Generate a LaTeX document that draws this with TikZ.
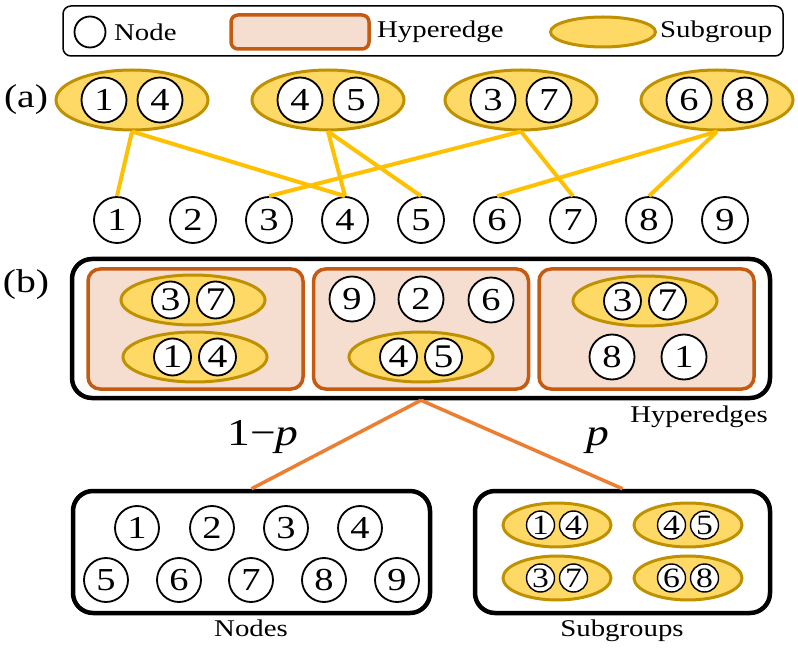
\documentclass[tikz,border=0pt]{standalone}
\usepackage{fontspec}
\setmainfont{Liberation Serif}[FakeStretch=1.2]
\usetikzlibrary{shapes.geometric,positioning}

\definecolor{grpfill}{HTML}{FFD966}
\definecolor{grpline}{HTML}{BF9000}
\definecolor{hypfill}{HTML}{F5DDD0}
\definecolor{hypline}{HTML}{C55A11}
\definecolor{linkyel}{HTML}{FFC000}
\definecolor{linkora}{HTML}{ED7D31}

\tikzset{
  vtx/.style={circle, draw=black, fill=white, line width=1.8pt, inner sep=0pt,
    minimum size=45pt, font=\fontsize{32}{32}\selectfont},
  vtxm/.style={vtx, minimum size=37pt, font=\fontsize{33}{33}\selectfont},
  vtxs/.style={vtx, line width=1.4pt, minimum size=28pt, font=\fontsize{28}{28}\selectfont},
  grp/.style={ellipse, draw=grpline, fill=grpfill, line width=3pt, inner sep=0pt,
    minimum width=152pt, minimum height=60pt},
  grpm/.style={grp, minimum width=144pt, minimum height=50pt},
  grps/.style={grp, minimum width=108pt, minimum height=44pt},
  hyp/.style={rectangle, rounded corners=12pt, draw=hypline, fill=hypfill, line width=3.5pt,
    minimum width=215pt, minimum height=120pt},
  panel/.style={rectangle, rounded corners=20pt, draw=black, line width=4.5pt, minimum height=122pt},
  lbl/.style={font=\fontsize{24}{24}\selectfont, inner sep=0pt},
  tag/.style={font=\fontsize{33}{33}\selectfont, inner sep=0pt},
  alink/.style={draw=linkyel, line width=4pt},
  blink/.style={draw=linkora, line width=3.5pt},
}

\begin{document}
\begin{tikzpicture}[x=1pt, y=-1pt]
    \useasboundingbox (0,0) rectangle (798,652);

    % legend
    \node[rectangle, rounded corners=8pt, draw, line width=1.5pt, minimum width=720pt,
      minimum height=50pt] (legend) at (423,31) {};
    \node[circle, draw, line width=1.8pt, minimum size=31pt] (legvtx) at (90,32) {};
    \node[lbl, anchor=west] (legvtxt) at (114,32) {Node};
    \node[hyp, minimum width=138pt, minimum height=34pt, rounded corners=7pt] (leghyp) at (300,32) {};
    \node[lbl, anchor=west] (leghypt) at (377,32) {Hyperedge};
    \node[grp, minimum width=105pt, minimum height=30pt] (leggrp) at (603,32) {};
    \node[lbl, anchor=west] (leggrpt) at (660,32) {Subgroup};

    % (a)
    \node[tag] (taga) at (26,100) {(a)};
    \foreach \i in {1,...,9}
        \node[vtx, minimum size=46pt] (a\i) at ({117+76*(\i-1)},220) {\i};
    \foreach \nm/\x/\p/\q in {g14/132/1/4, g45/328/4/5, g37/521/3/7, g68/717/6/8} {
        \node[grp] (\nm) at (\x,100) {};
        \node[vtx] (\nm-l) at (\x-28,100) {\p};
        \node[vtx] (\nm-r) at (\x+28,100) {\q};
    }
    \foreach \g/\n in {g14/1, g14/4, g45/4, g45/5, g37/3, g37/7, g68/6, g68/8}
        \draw[alink] (\g.south) -- (a\n.north);

    % (b)
    \node[tag] (tagb) at (26,285) {(b)};
    \node[panel, minimum width=698pt, minimum height=139pt] (hypbox) at (421,328.5) {};
    \node[hyp] (h1) at (195.5,329) {};
    \node[hyp] (h2) at (421,329) {};
    \node[hyp] (h3) at (646.5,329) {};

    \foreach \nm/\x/\y/\p/\q in {h1t/193/300/3/7, h1b/195/357/1/4, h2b/421/357/4/5, h3t/645/301/3/7} {
        \node[grpm] (\nm) at (\x,\y) {};
        \node[vtxm] (\nm-l) at (\x-22.5,\y) {\p};
        \node[vtxm] (\nm-r) at (\x+22.5,\y) {\q};
    }
    \node[vtx] (h2a) at (352,299) {9};
    \node[vtx] (h2c) at (421,299) {2};
    \node[vtx] (h2d) at (491,300) {6};
    \node[vtx] (h3a) at (612,357) {8};
    \node[vtx] (h3b) at (684,357) {1};
    \node[lbl, anchor=north east] (hyplbl) at (768,406) {Hyperedges};

    \node[panel, minimum width=357pt] (nodebox) at (251.5,552) {};
    \node[panel, minimum width=295pt] (subbox) at (622.5,552) {};
    \draw[blink] (hypbox.south) -- (nodebox.north);
    \draw[blink] (hypbox.south) -- (subbox.north);
    \node[font=\fontsize{38}{38}\selectfont, inner sep=0pt] (lp) at (263,437) {1−\textit{p}};
    \node[font=\fontsize{38}{38}\selectfont, inner sep=0pt] (rp) at (598,441) {\textit{p}};

    \foreach \i/\x in {1/137, 2/212, 3/286, 4/360}
        \node[vtx, minimum size=44pt] (b\i) at (\x,528) {\i};
    \foreach \i/\x in {5/106, 6/179, 7/251, 8/324, 9/397}
        \node[vtx, minimum size=44pt] (b\i) at (\x,580) {\i};
    \node[lbl, anchor=north] (nodelbl) at (251,620) {Nodes};

    \foreach \nm/\x/\y/\p/\q in {s14/557/525/1/4, s45/688/525/4/5, s37/557/578/3/7, s68/688/578/6/8} {
        \node[grps] (\nm) at (\x,\y) {};
        \node[vtxs] (\nm-l) at (\x-16.5,\y) {\p};
        \node[vtxs] (\nm-r) at (\x+16.5,\y) {\q};
    }
    \node[lbl, anchor=north] (sublbl) at (622,620) {Subgroups};
\end{tikzpicture}
\end{document}
